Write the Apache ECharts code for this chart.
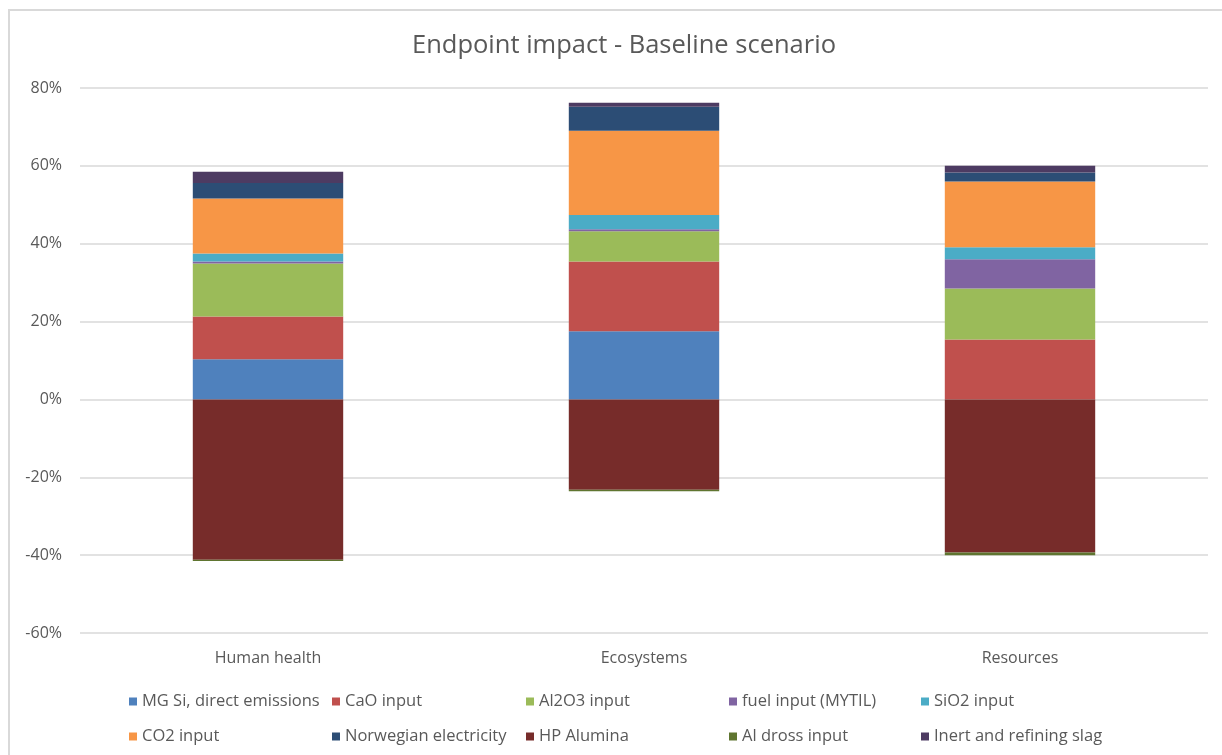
<!DOCTYPE html>
<html>
<head>
<meta charset="utf-8">
<title>Endpoint impact - Baseline scenario</title>
<script src="https://cdn.jsdelivr.net/npm/echarts@6/dist/echarts.min.js"></script>
<style>
  html, body { margin: 0; padding: 0; background: #ffffff; }
  #chart { width: 1222px; height: 755px; }
</style>
</head>
<body>
<div id="chart"></div>
<script>
// Impact categories on the x axis
const categories = ['Human health', 'Ecosystems', 'Resources'];

// Contribution of each process, in percent of the endpoint score
const mgSiDirect   = [10.3, 17.5, 0];
const caoInput     = [11.0, 17.9, 15.4];
const al2o3Input   = [13.6, 7.8, 13.1];
const fuelInput    = [0.5, 0.5, 7.5];
const sio2Input    = [2.1, 3.7, 3.1];
const co2Input     = [14.1, 21.6, 16.9];
const norwegianEl  = [4.0, 6.2, 2.3];
const hpAlumina    = [-41.2, -23.2, -39.3];
const alDross      = [-0.3, -0.4, -0.7];
const inertSlag    = [2.9, 1.0, 1.7];

// Value axis ticks
const yTicks = [-60, -40, -20, 0, 20, 40, 60, 80];

const seriesDefs = [
  { name: 'MG Si, direct emissions', data: mgSiDirect,  color: '#4f81bd' },
  { name: 'CaO input',               data: caoInput,    color: '#c0504d' },
  { name: 'Al2O3 input',             data: al2o3Input,  color: '#9bbb59' },
  { name: 'fuel input (MYTIL)',      data: fuelInput,   color: '#8064a2' },
  { name: 'SiO2 input',              data: sio2Input,   color: '#4bacc6' },
  { name: 'CO2 input',               data: co2Input,    color: '#f79646' },
  { name: 'Norwegian electricity',   data: norwegianEl, color: '#2c4d75' },
  { name: 'HP Alumina',              data: hpAlumina,   color: '#772c2a' },
  { name: 'Al dross input',          data: alDross,     color: '#5f7530' },
  { name: 'Inert and refining slag', data: inertSlag,   color: '#4d3b62' }
];

const FONT = '"Open Sans", "Noto Sans", sans-serif';
const TXT = '#595959';

// Legend laid out as a 5 x 2 grid: one legend block per entry
const legendCols = [129, 332, 526, 729, 921];
const legendRows = [693, 728];

const legends = seriesDefs.map((s, i) => ({
  top: legendRows[Math.floor(i / 5)],
  left: legendCols[i % 5],
  itemWidth: 8,
  itemHeight: 8,
  itemGap: 0,
  padding: 0,
  icon: 'rect',
  selectedMode: false,
  data: [s.name],
  textStyle: { fontFamily: FONT, fontSize: 16.5, color: TXT, padding: [0, 0, 0, 0] }
}));

const chart = echarts.init(document.getElementById('chart'), null, { renderer: 'canvas' });

chart.setOption({
  animation: false,
  backgroundColor: '#ffffff',
  title: {
    text: 'Endpoint impact - Baseline scenario',
    left: 407,
    top: 28,
    textStyle: { fontFamily: FONT, fontSize: 25.5, fontWeight: 'normal', color: TXT }
  },
  graphic: [{
    type: 'rect',
    silent: true,
    shape: { x: 9, y: 10, width: 1240, height: 780 },
    style: { fill: 'none', stroke: '#d9d9d9', lineWidth: 2 }
  }],
  legend: legends,
  grid: { left: 80, right: 14, top: 88, bottom: 122, containLabel: false },
  xAxis: {
    type: 'category',
    data: categories,
    axisLine: { show: false },
    axisTick: { show: false },
    axisLabel: { fontFamily: FONT, fontSize: 16, color: TXT, margin: 17 }
  },
  yAxis: {
    type: 'value',
    min: yTicks[0],
    max: yTicks[yTicks.length - 1],
    interval: 20,
    axisLine: { show: false },
    axisTick: { show: false },
    splitLine: { lineStyle: { color: '#d9d9d9', width: 1.5 } },
    axisLabel: {
      fontFamily: FONT, fontSize: 16, color: TXT, margin: 18,
      formatter: v => v + '%'
    }
  },
  series: seriesDefs.map(s => ({
    name: s.name,
    type: 'bar',
    stack: 'total',
    barWidth: '40%',
    data: s.data,
    itemStyle: { color: s.color },
    emphasis: { disabled: true }
  }))
});
</script>
</body>
</html>
